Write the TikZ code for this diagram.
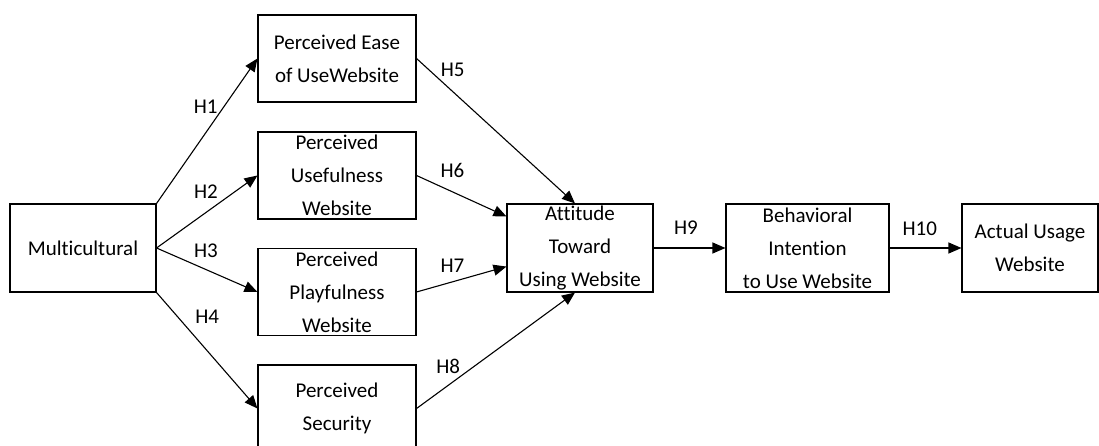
\documentclass[tikz,border=0pt]{standalone}
\usepackage{fontspec}
\setmainfont{Carlito}[Ligatures=NoCommon]
\usetikzlibrary{arrows.meta}

\begin{document}
\begin{tikzpicture}[x=1pt, y=-1pt,
    box/.style={draw, line width=1.1pt, minimum width=158pt, minimum height=87pt, inner sep=0pt},
    txt/.style={align=center, font=\fontsize{21}{33}\selectfont, inner sep=0pt},
    hyp/.style={font=\fontsize{21}{25}\selectfont, inner sep=1pt},
    arr/.style={line width=1.1pt, -{Triangle[length=13pt, width=11pt]}}]
    \useasboundingbox (0, 0) rectangle (1099, 446);
    % constructs
    \node[box, minimum width=146pt, minimum height=88pt, label={[txt]center:Multicultural}] (multi) at (83, 248) {};
    \node[box, label={[txt]center:{Perceived Ease\\of UseWebsite}}] (ease) at (337, 58.5) {};
    \node[box, label={[txt]center:{Perceived\\Usefulness\\Website}}] (puse) at (337, 175.5) {};
    \node[box, label={[txt]center:{Perceived\\Playfulness\\Website}}] (pplay) at (337, 292) {};
    \node[box, label={[txt]center:{Perceived\\Security}}] (psec) at (337, 408.5) {};
    \node[box, minimum width=146pt, minimum height=88pt, label={[txt]center:{Attitude\\Toward\\Using Website}}] (att) at (580, 248) {};
    \node[box, minimum width=163pt, minimum height=88pt, label={[txt]center:{Behavioral\\Intention\\to Use Website}}] (beh) at (807.5, 248) {};
    \node[box, minimum width=136pt, minimum height=88pt, label={[txt]center:{Actual Usage\\Website}}] (act) at (1030, 248) {};
    % hypotheses
    \draw[arr] (multi.north east) -- node[hyp, pos=.67, left=5pt] (h1) {H1} (ease.west);
    \draw[arr] (multi.east) -- node[hyp, pos=.49, above=12pt] (h2) {H2} (puse.west);
    \draw[arr] (multi.east) -- node[hyp, pos=.49, above=10pt] (h3) {H3} (pplay.west);
    \draw[arr] (multi.south east) -- node[hyp, pos=.21, right=16pt] (h4) {H4} (psec.west);
    \draw[arr] (ease.east) -- node[hyp, pos=.08, right=10pt] (h5) {H5} ([xshift=-5pt]att.north);
    \draw[arr] (puse.east) -- node[hyp, pos=.4, above=13pt] (h6) {H6} ([yshift=-13pt]att.north west);
    \draw[arr] (pplay.east) -- node[hyp, pos=.4, above=8pt] (h7) {H7} ([yshift=26pt]att.south west);
    \draw[arr] (psec.east) -- node[hyp, pos=.2, above=10pt] (h8) {H8} ([xshift=-5pt]att.south);
    \draw[arr] (att.east) -- node[hyp, pos=.45, above=12pt] (h9) {H9} (beh.west);
    \draw[arr] (beh.east) -- node[hyp, pos=.42, above=11pt] (h10) {H10} (act.west);
\end{tikzpicture}
\end{document}
